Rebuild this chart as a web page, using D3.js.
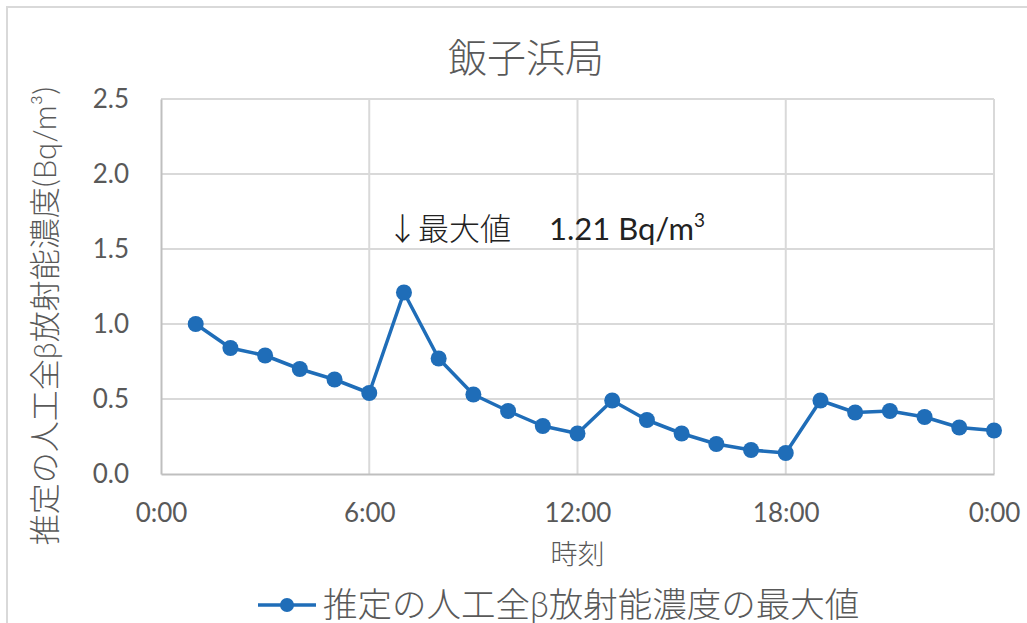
<!DOCTYPE html>
<html>
<head>
<meta charset="utf-8">
<script src="https://cdn.jsdelivr.net/npm/d3@7"></script>
<style>
  html, body { margin: 0; padding: 0; background: #fff; }
  svg { display: block; }
  text { font-family: Lato, "Noto Sans CJK JP", sans-serif; }
</style>
</head>
<body>
<svg id="chart" width="1027" height="623"></svg>
<script>
// Hourly maximum of estimated artificial total-beta concentration (Bq/m3)
const hours = [1,2,3,4,5,6,7,8,9,10,11,12,13,14,15,16,17,18,19,20,21,22,23,24];
const values = [1.00,0.84,0.79,0.70,0.63,0.54,1.21,0.77,0.53,0.42,0.32,0.27,0.49,0.36,0.27,0.20,0.16,0.14,0.49,0.41,0.42,0.38,0.31,0.29];
const yTicks = [0, 0.5, 1.0, 1.5, 2.0, 2.5];
const xTicks = [0, 6, 12, 18, 24];
const xTickLabels = ["0:00", "6:00", "12:00", "18:00", "0:00"];

const title = "飯子浜局";
const yTitle = "推定の人工全β放射能濃度(Bq/m³)";
const xTitle = "時刻";
const seriesName = "推定の人工全β放射能濃度の最大値";
const maxLabel = "↓最大値";
const maxValue = d3.max(values);
const maxHour = hours[values.indexOf(maxValue)];

const svg = d3.select("#chart");
const W = 1027, H = 623;
const plot = { left: 161, right: 994, top: 99, bottom: 474 };

const x = d3.scaleLinear().domain([0, 24]).range([plot.left, plot.right]);
const y = d3.scaleLinear().domain([0, 2.5]).range([plot.bottom, plot.top]);

const gridColor = "#d9d9d9";
const axisColor = "#bfbfbf";
const textColor = "#595959";
const lineColor = "#1f6db8";

// outer chart frame
svg.append("rect")
  .attr("x", 7).attr("y", 7)
  .attr("width", W + 20).attr("height", H + 20)
  .attr("fill", "none").attr("stroke", gridColor).attr("stroke-width", 2);

// gridlines
svg.append("g").selectAll("line").data(yTicks.filter(d => d > 0)).join("line")
  .attr("x1", plot.left).attr("x2", plot.right)
  .attr("y1", d => y(d)).attr("y2", d => y(d))
  .attr("stroke", gridColor).attr("stroke-width", 2);
svg.append("g").selectAll("line").data(xTicks.filter(d => d > 0)).join("line")
  .attr("x1", d => x(d)).attr("x2", d => x(d))
  .attr("y1", plot.top).attr("y2", plot.bottom)
  .attr("stroke", gridColor).attr("stroke-width", 2);

// axes
const xAxis = d3.axisBottom(x).tickValues(xTicks)
  .tickFormat((d, i) => xTickLabels[i]).tickSize(0).tickPadding(30);
const gx = svg.append("g").attr("transform", `translate(0,${plot.bottom})`).call(xAxis);
gx.select(".domain").attr("stroke", axisColor).attr("stroke-width", 2);
gx.selectAll("text").attr("fill", textColor).attr("font-size", 26);

const yAxis = d3.axisLeft(y).tickValues(yTicks)
  .tickFormat(d3.format(".1f")).tickSize(0).tickPadding(32);
const gy = svg.append("g").attr("transform", `translate(${plot.left},0)`).call(yAxis);
gy.select(".domain").attr("stroke", axisColor).attr("stroke-width", 2);
gy.selectAll("text").attr("fill", textColor).attr("font-size", 26);

// series
const line = d3.line().x((d, i) => x(hours[i])).y(d => y(d));
svg.append("path").datum(values)
  .attr("d", line).attr("fill", "none")
  .attr("stroke", lineColor).attr("stroke-width", 3.5)
  .attr("stroke-linejoin", "round");
svg.append("g").selectAll("circle").data(values).join("circle")
  .attr("cx", (d, i) => x(hours[i])).attr("cy", d => y(d))
  .attr("r", 8).attr("fill", lineColor);

// maximum annotation
const ann = svg.append("text")
  .attr("x", x(maxHour) - 17).attr("y", y(1.56))
  .attr("font-size", 31).attr("fill", "#222");
ann.append("tspan").attr("font-family", "'Noto Sans CJK JP'").attr("font-weight", 300).text(maxLabel);
ann.append("tspan").attr("dx", 38).text(`${maxValue.toFixed(2)} Bq/m`);
ann.append("tspan").attr("font-size", 19).attr("dy", -13).text("3");

// title
svg.append("text")
  .attr("x", 526).attr("y", 72)
  .attr("text-anchor", "middle").attr("font-size", 39)
  .attr("font-weight", 300).attr("fill", textColor).text(title);

// axis titles
svg.append("text")
  .attr("transform", `translate(56,316) rotate(-90)`)
  .attr("text-anchor", "middle").attr("font-size", 31)
  .attr("font-weight", 300).attr("fill", textColor).text(yTitle);

svg.append("text")
  .attr("x", (plot.left + plot.right) / 2).attr("y", 564)
  .attr("text-anchor", "middle").attr("font-size", 27)
  .attr("font-weight", 300).attr("fill", textColor).text(xTitle);

// legend
const lg = svg.append("g").attr("transform", "translate(258,605)");
lg.append("line").attr("x1", 0).attr("x2", 58).attr("y1", 0).attr("y2", 0)
  .attr("stroke", lineColor).attr("stroke-width", 3.5);
lg.append("circle").attr("cx", 29).attr("cy", 0).attr("r", 7).attr("fill", lineColor);
lg.append("text").attr("x", 65).attr("y", 12)
  .attr("font-size", 34.5).attr("font-weight", 300)
  .attr("fill", textColor).text(seriesName);
</script>
</body>
</html>
